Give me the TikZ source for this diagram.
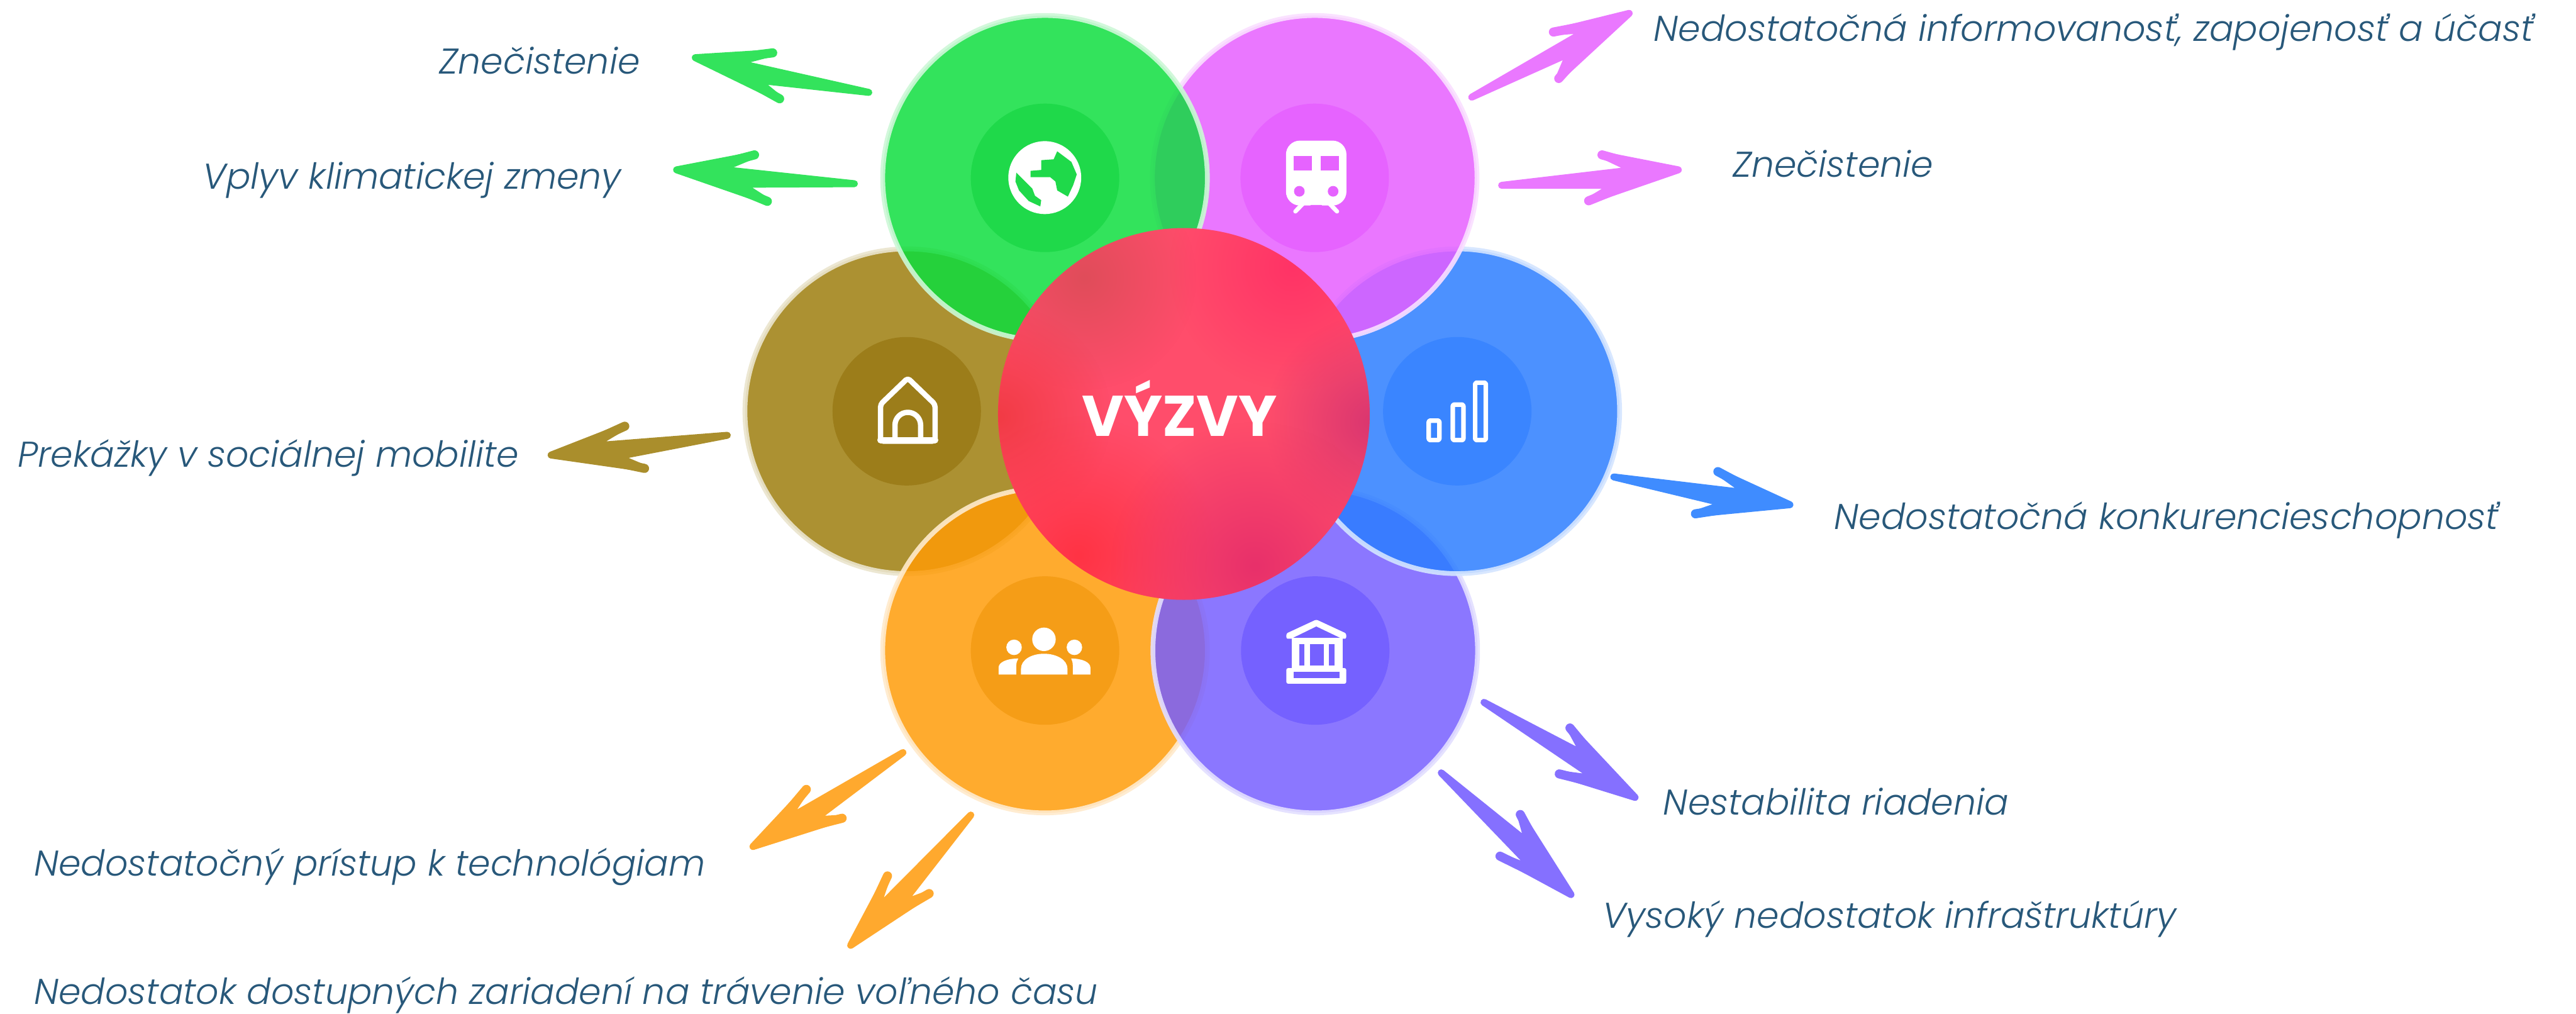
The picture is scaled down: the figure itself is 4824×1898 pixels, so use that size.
\documentclass[tikz,border=0pt]{standalone}
\usepackage{fontspec}
\setmainfont{Poppins}
\newfontfamily\lightface{Poppins Light}
\usetikzlibrary{fadings,calc}
\definecolor{cgreen}{HTML}{0CDE3D}
\definecolor{cpink}{HTML}{E65EFF}
\definecolor{cbrown}{HTML}{9D7D0B}
\definecolor{cblue}{HTML}{2A7DFF}
\definecolor{corange}{HTML}{FF9B06}
\definecolor{cpurple}{HTML}{755EFF}
\definecolor{hgreen}{HTML}{1FD94A}
\definecolor{hpink}{HTML}{E663FF}
\definecolor{hbrown}{HTML}{9C7D1A}
\definecolor{hblue}{HTML}{3A85FF}
\definecolor{horange}{HTML}{F59D17}
\definecolor{hpurple}{HTML}{7561FF}
\definecolor{agreen}{HTML}{33E35C}
\definecolor{apink}{HTML}{EA78FF}
\definecolor{abrown}{HTML}{AA8E2C}
\definecolor{ablue}{HTML}{3F8CFF}
\definecolor{aorange}{HTML}{FFA92E}
\definecolor{apurple}{HTML}{8570FF}
\definecolor{labelblue}{HTML}{28587A}
\definecolor{rbase}{HTML}{FF4D6B}
\definecolor{rdull}{HTML}{E04C5A}
\definecolor{rhot}{HTML}{FF3366}
\definecolor{rleft}{HTML}{F23B45}
\definecolor{rright}{HTML}{DA3670}
\definecolor{rlow}{HTML}{FF3344}
\definecolor{rlowr}{HTML}{E8306A}
\tikzfading[name=softblob, inner color=transparent!0, outer color=transparent!100]
\tikzset{
  bubble/.style={circle,inner sep=0pt,outer sep=0pt,minimum size=60.8pt,line width=.9pt,
    fill opacity=.84,draw opacity=.9,fill=#1,draw=#1!20!white},
  hub/.style={circle,inner sep=0pt,outer sep=0pt,minimum size=27.8pt,fill=#1},
  sketchy/.style={draw=#1,fill=#1,line width=1.3pt,line join=round},
  barbstroke/.style={draw=#1,line width=1.7pt,line cap=round},
  caption/.style={anchor=base west,inner sep=0pt,text=labelblue,font=\lightface\itshape\fontsize{6.71}{8}\selectfont},
  icon/.style={draw=white,line width=#1,line join=round,line cap=round},
  blob/.style={fill=#1,path fading=softblob}
}
% id, colour, tail, notch, barb, tip, barb, notch
\newcommand\flick[8]{%
  \coordinate (#1tail) at (#3);
  \coordinate (#1tip) at (#6);
  \coordinate (#1up) at (#5);
  \coordinate (#1dn) at (#7);
  \coordinate (#1nu) at (#4);
  \coordinate (#1nd) at (#8);
  \draw[sketchy=#2] (#1tail) -- (#1nu) -- (#1up) -- (#1tip) -- (#1dn) -- (#1nd) -- cycle;
  \draw[barbstroke=#2] (#1up) -- ($(#1nu)!.5!(#1tip)$);
  \draw[barbstroke=#2] (#1dn) -- ($(#1nd)!.5!(#1tip)$);
}
\begin{document}
\begin{tikzpicture}[x=0.1pt,y=-0.1pt]
\useasboundingbox (0,0) rectangle (4824,1898);
\fill[white] (0,0) rectangle (4824,1898);

% bubbles, bottom to top
\node[bubble=cbrown]  (brown)  at (1699,770)  {};
\node[bubble=corange] (orange) at (1957,1218) {};
\node[bubble=cpurple] (purple) at (2463,1218) {};
\node[bubble=cblue]   (blue)   at (2729,770)  {};
\node[bubble=cpink]   (pink)   at (2462,333)  {};
\node[bubble=cgreen]  (green)  at (1957,333)  {};

% hubs
\node[hub=hbrown]  (hubbrown)  at (1698,770)  {};
\node[hub=horange] (huborange) at (1957,1218) {};
\node[hub=hpurple] (hubpurple) at (2463,1218) {};
\node[hub=hblue]   (hubblue)   at (2729,770)  {};
\node[hub=hpink]   (hubpink)   at (2462,333)  {};
\node[hub=hgreen]  (hubgreen)  at (1957,333)  {};

% globe
\begin{scope}[shift={(1810,240)},x=0.0333pt,y=-0.0333pt]
  \fill[white] (440,278) circle (205);
  \fill[hgreen] (510,130) -- (590,190) -- (620,260) -- (600,320) -- (570,385) -- (510,350) -- (500,300) -- (470,275) -- (360,275) -- (360,240) -- (420,235) -- (420,180) -- (490,175) -- cycle;
  \fill[hgreen] (280,250) -- (370,340) -- (385,380) -- (420,405) -- (415,440) -- (350,410) -- (295,350) -- (275,300) -- cycle;
\end{scope}

% train
\begin{scope}[shift={(2320,240)},x=0.0333pt,y=-0.0333pt]
  \draw[icon=.8pt] (360,425) -- (318,468);
  \draw[icon=.8pt] (510,425) -- (552,468);
  \fill[white,rounded corners=2.6pt] (265,70) -- (605,70) -- (605,435) -- (265,435) -- cycle;
  \fill[hpink] (308,155) rectangle (410,238);
  \fill[hpink] (460,155) rectangle (562,238);
  \fill[hpink] (340,355) circle (30);
  \fill[hpink] (530,355) circle (30);
  \fill[hpink] (395,445) -- (405,432) -- (465,432) -- (475,445) -- cycle;
\end{scope}

% house
\draw[icon=1pt,rounded corners=.5pt] (1700,708) -- (1751,757) -- (1751,826) -- (1649,826) -- (1649,757) -- cycle;
\draw[icon=1pt] (1676,824) -- (1676,796) arc[start angle=180,end angle=360,radius=24] -- (1724,824);
\draw[icon=1.2pt] (1649,824) -- (1751,824);

% bars
\draw[icon=.85pt,rounded corners=.3pt] (2675.5,787.5) rectangle (2695.5,824);
\draw[icon=.85pt,rounded corners=.3pt] (2720.5,757.5) rectangle (2740.5,824);
\draw[icon=.85pt,rounded corners=.3pt] (2762.5,716.5) rectangle (2782.5,824);

% people
\fill[white] (1955,1197) circle (22);
\fill[white] (1899,1212) circle (14.5);
\fill[white] (2012,1212) circle (14.5);
\fill[white] (1912,1263) -- (1912,1252) .. controls (1912,1235) and (1932,1224) .. (1955,1224) .. controls (1978,1224) and (1999,1235) .. (1999,1252) -- (1999,1263) -- cycle;
\fill[white] (1870,1263) -- (1870,1250) .. controls (1870,1240) and (1885,1233) .. (1907,1233) .. controls (1902,1240) and (1903,1250) .. (1903,1263) -- cycle;
\fill[white] (2042,1263) -- (2042,1250) .. controls (2042,1240) and (2027,1233) .. (2006,1233) .. controls (2010,1240) and (2009,1250) .. (2009,1263) -- cycle;

% bank
\fill[white,rounded corners=.3pt] (2465,1160) -- (2521,1186) -- (2521,1196) -- (2409,1196) -- (2409,1186) -- cycle;
\fill[hpurple] (2465,1173) -- (2509,1194) -- (2422,1194) -- cycle;
\fill[white] (2419,1195) rectangle (2514,1255);
\fill[white,rounded corners=.3pt] (2409,1251) rectangle (2521,1280);
\fill[hpurple] (2433,1206) rectangle (2443,1246);
\fill[hpurple] (2453,1206) rectangle (2479,1246);
\fill[hpurple] (2489,1206) rectangle (2499,1246);
\fill[hpurple] (2422,1258) rectangle (2509,1270);

% centre
\node[circle,inner sep=0pt,outer sep=0pt,minimum size=69.6pt,fill=rbase] (core) at (2217,775) {};
\begin{scope}
  \clip (2217,775) circle (348);
  \fill[blob=rdull] (2030,520) circle (210);
  \fill[blob=rhot] (2420,500) circle (230);
  \fill[blob=rleft] (1870,780) circle (210);
  \fill[blob=rright] (2570,790) circle (200);
  \fill[blob=rlow] (2020,1040) circle (260);
  \fill[blob=rlowr] (2350,1060) circle (270);
\end{scope}
\node[inner sep=0pt,text=white,font=\bfseries\fontsize{10.75}{13}\selectfont,anchor=base] (corelabel) at (2209,817) {VÝZVY};

% arrows
\flick{ga}{agreen}{1627,173}{1378,117}{1447,99}{1302,108}{1460,185}{1417,150}
\flick{gb}{agreen}{1600,344}{1348,317}{1413,290}{1267,318}{1437,377}{1387,345}
\flick{pa}{apink}{2756,182}{2975,55}{2909,60}{3051,25}{2919,147}{2939,100}
\flick{pb}{apink}{2812,347}{3059,318}{3000,290}{3143,318}{2975,376}{3023,347}
\flick{ba}{abrown}{1362,815}{1108,835}{1170,798}{1032,852}{1207,877}{1155,855}
\flick{bb}{ablue}{3022,893}{3273,923}{3217,883}{3352,945}{3175,962}{3230,943}
\flick{oa}{aorange}{1691,1409}{1472,1535}{1510,1478}{1410,1585}{1577,1532}{1524,1535}
\flick{ob}{aorange}{1818,1526}{1640,1705}{1662,1640}{1593,1770}{1740,1673}{1689,1692}
\flick{va}{apurple}{2779,1315}{2967,1413}{2940,1363}{3062,1493}{2920,1449}{2990,1458}
\flick{vb}{apurple}{2699,1447}{2862,1578}{2847,1525}{2942,1675}{2809,1603}{2873,1628}

% labels
\node[caption] (la) at (821,138) {Znečistenie};
\node[caption] (lb) at (378,354) {Vplyv klimatickej zmeny};
\node[caption] (lc) at (31,874) {Prekážky v sociálnej mobilite};
\node[caption] (ld) at (62,1640) {Nedostatočný prístup k technológiam};
\node[caption] (le) at (62,1880) {Nedostatok dostupných zariadení na trávenie voľného času};
\node[caption] (lf) at (3095,77) {Nedostatočná informovanosť, zapojenosť a účasť};
\node[caption] (lg) at (3243,331) {Znečistenie};
\node[caption] (lh) at (3433,991) {Nedostatočná konkurencieschopnosť};
\node[caption] (li) at (3113,1526) {Nestabilita riadenia};
\node[caption] (lj) at (2999,1738) {Vysoký nedostatok infraštruktúry};
\end{tikzpicture}
\end{document}
